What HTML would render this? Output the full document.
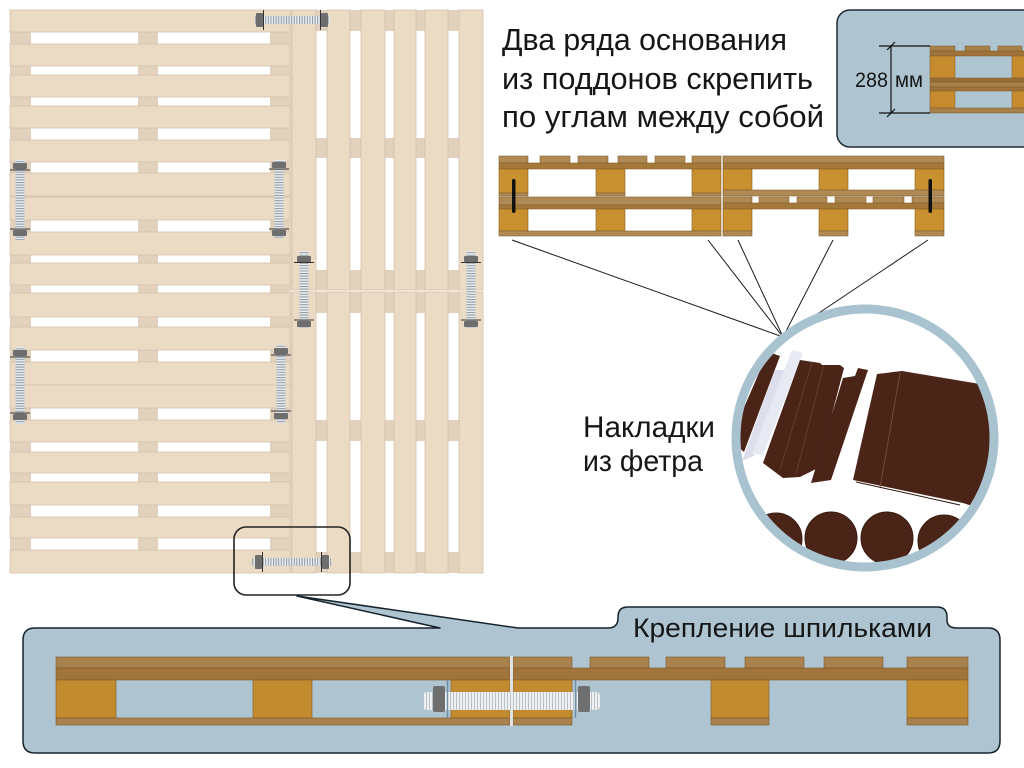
<!DOCTYPE html>
<html><head><meta charset="utf-8"><style>
html,body{margin:0;padding:0;background:#fff;}
svg{display:block;}
text{font-family:"Liberation Sans","Noto Sans CJK SC",sans-serif;fill:#161616;}
</style></head><body>
<svg width="1024" height="768" viewBox="0 0 1024 768" xmlns="http://www.w3.org/2000/svg">
<defs>
<pattern id="sv" width="12" height="2.6" patternUnits="userSpaceOnUse"><rect width="12" height="2.6" fill="#e8ecef"/><rect width="12" height="1" fill="#8e99a3"/></pattern>
<pattern id="sh" width="2.6" height="12" patternUnits="userSpaceOnUse"><rect width="2.6" height="12" fill="#e8ecef"/><rect width="1" height="12" fill="#8e99a3"/></pattern>
<pattern id="sh2" width="3" height="30" patternUnits="userSpaceOnUse"><rect width="3" height="30" fill="#eef0f2"/><rect width="1" height="30" fill="#b9c0c6"/></pattern>
<clipPath id="cc"><circle cx="865" cy="438" r="125"/></clipPath>
</defs>

<!-- LEFT PALLETS -->
<rect x="10" y="10" width="280" height="563" fill="#e2d1bd"/>
<g fill="#fff">
<rect x="31" y="32" width="107" height="12"/><rect x="158" y="32" width="112" height="12"/>
<rect x="31" y="66" width="107" height="9"/><rect x="158" y="66" width="112" height="9"/>
<rect x="31" y="97" width="107" height="9"/><rect x="158" y="97" width="112" height="9"/>
<rect x="31" y="128" width="107" height="12"/><rect x="158" y="128" width="112" height="12"/>
<rect x="31" y="162" width="107" height="11"/><rect x="158" y="162" width="112" height="11"/>
<rect x="31" y="220" width="107" height="12"/><rect x="158" y="220" width="112" height="12"/>
<rect x="31" y="255" width="107" height="8"/><rect x="158" y="255" width="112" height="8"/>
<rect x="31" y="285" width="107" height="8"/><rect x="158" y="285" width="112" height="8"/>
<rect x="31" y="317" width="107" height="10"/><rect x="158" y="317" width="112" height="10"/>
<rect x="31" y="350" width="107" height="12"/><rect x="158" y="350" width="112" height="12"/>
<rect x="31" y="408" width="107" height="12"/><rect x="158" y="408" width="112" height="12"/>
<rect x="31" y="442" width="107" height="10"/><rect x="158" y="442" width="112" height="10"/>
<rect x="31" y="473" width="107" height="9"/><rect x="158" y="473" width="112" height="9"/>
<rect x="31" y="505" width="107" height="12"/><rect x="158" y="505" width="112" height="12"/>
<rect x="31" y="538" width="107" height="12"/><rect x="158" y="538" width="112" height="12"/>
</g>
<g fill="#ebdbc5" stroke="#d2c1aa" stroke-width="0.8">
<rect x="10" y="10" width="280" height="22"/>
<rect x="10" y="44" width="280" height="22"/>
<rect x="10" y="75" width="280" height="22"/>
<rect x="10" y="106" width="280" height="22"/>
<rect x="10" y="140" width="280" height="22"/>
<rect x="10" y="173" width="280" height="23"/>
<rect x="10" y="197" width="280" height="23"/>
<rect x="10" y="232" width="280" height="23"/>
<rect x="10" y="263" width="280" height="22"/>
<rect x="10" y="293" width="280" height="24"/>
<rect x="10" y="327" width="280" height="23"/>
<rect x="10" y="362" width="280" height="23"/>
<rect x="10" y="385" width="280" height="23"/>
<rect x="10" y="420" width="280" height="22"/>
<rect x="10" y="452" width="280" height="21"/>
<rect x="10" y="482" width="280" height="23"/>
<rect x="10" y="517" width="280" height="21"/>
<rect x="10" y="550" width="280" height="23"/>
</g>

<!-- RIGHT PALLETS -->
<rect x="290" y="10" width="193" height="563" fill="#e2d1bd"/>
<g fill="#fff">
<rect x="316" y="31" width="11" height="107"/><rect x="350" y="31" width="11" height="107"/><rect x="385" y="31" width="9" height="107"/><rect x="416" y="31" width="9" height="107"/><rect x="448" y="31" width="11" height="107"/>
<rect x="316" y="158" width="11" height="112"/><rect x="350" y="158" width="11" height="112"/><rect x="385" y="158" width="9" height="112"/><rect x="416" y="158" width="9" height="112"/><rect x="448" y="158" width="11" height="112"/>
<rect x="316" y="313" width="11" height="107"/><rect x="350" y="313" width="11" height="107"/><rect x="385" y="313" width="9" height="107"/><rect x="416" y="313" width="9" height="107"/><rect x="448" y="313" width="11" height="107"/>
<rect x="316" y="441" width="11" height="111"/><rect x="350" y="441" width="11" height="111"/><rect x="385" y="441" width="9" height="111"/><rect x="416" y="441" width="9" height="111"/><rect x="448" y="441" width="11" height="111"/>
</g>
<g fill="#ebdbc5" stroke="#d2c1aa" stroke-width="0.8">
<rect x="292" y="10" width="24" height="280"/><rect x="327" y="10" width="23" height="280"/><rect x="361" y="10" width="24" height="280"/><rect x="394" y="10" width="22" height="280"/><rect x="425" y="10" width="23" height="280"/><rect x="459" y="10" width="24" height="280"/>
<rect x="292" y="292" width="24" height="281"/><rect x="327" y="292" width="23" height="281"/><rect x="361" y="292" width="24" height="281"/><rect x="394" y="292" width="22" height="281"/><rect x="425" y="292" width="23" height="281"/><rect x="459" y="292" width="24" height="281"/>
</g>
<line x1="290" y1="291" x2="483" y2="291" stroke="#f4ece2" stroke-width="1.5"/>

<!-- BOLTS -->
<g>
<!-- H1 -->
<rect x="255" y="16" width="75" height="8" fill="url(#sh)"/>
<rect x="256" y="13" width="7" height="14" rx="1" fill="#6e6e6e"/><rect x="321" y="13" width="7" height="14" rx="1" fill="#6e6e6e"/>
<line x1="263.5" y1="10" x2="263.5" y2="30" stroke="#333" stroke-width="1"/><line x1="320.5" y1="10" x2="320.5" y2="30" stroke="#333" stroke-width="1"/>
<!-- H2 -->
<rect x="252" y="558" width="80" height="8" fill="url(#sh)"/>
<rect x="255" y="555" width="7" height="14" rx="1" fill="#6e6e6e"/><rect x="322" y="555" width="7" height="14" rx="1" fill="#6e6e6e"/>
<line x1="262.5" y1="552" x2="262.5" y2="572" stroke="#333" stroke-width="1"/><line x1="321.5" y1="552" x2="321.5" y2="572" stroke="#333" stroke-width="1"/>
<!-- V1 -->
<rect x="15.5" y="160" width="9" height="80" fill="url(#sv)"/>
<rect x="13" y="163" width="14" height="6" rx="1" fill="#6e6e6e"/><rect x="13" y="230" width="14" height="6" rx="1" fill="#6e6e6e"/>
<line x1="10" y1="170" x2="30" y2="170" stroke="#333"/><line x1="10" y1="229" x2="30" y2="229" stroke="#333"/>
<!-- V2 -->
<rect x="274.5" y="160" width="9" height="78" fill="url(#sv)"/>
<rect x="272" y="162" width="14" height="6" rx="1" fill="#6e6e6e"/><rect x="272" y="230" width="14" height="6" rx="1" fill="#6e6e6e"/>
<line x1="269" y1="169" x2="289" y2="169" stroke="#333"/><line x1="269" y1="229" x2="289" y2="229" stroke="#333"/>
<!-- V3 -->
<rect x="299.5" y="251" width="9" height="77" fill="url(#sv)"/>
<rect x="297" y="256" width="14" height="6" rx="1" fill="#6e6e6e"/><rect x="297" y="321" width="14" height="6" rx="1" fill="#6e6e6e"/>
<line x1="294" y1="262.5" x2="314" y2="262.5" stroke="#333"/><line x1="294" y1="320" x2="314" y2="320" stroke="#333"/>
<!-- V4 -->
<rect x="466.5" y="251" width="9" height="77" fill="url(#sv)"/>
<rect x="464" y="256" width="14" height="6" rx="1" fill="#6e6e6e"/><rect x="464" y="321" width="14" height="6" rx="1" fill="#6e6e6e"/>
<line x1="461" y1="262.5" x2="481" y2="262.5" stroke="#333"/><line x1="461" y1="320" x2="481" y2="320" stroke="#333"/>
<!-- V5 -->
<rect x="15.5" y="347" width="9" height="77" fill="url(#sv)"/>
<rect x="13" y="350" width="14" height="6" rx="1" fill="#6e6e6e"/><rect x="13" y="414" width="14" height="6" rx="1" fill="#6e6e6e"/>
<line x1="10" y1="357" x2="30" y2="357" stroke="#333"/><line x1="10" y1="413" x2="30" y2="413" stroke="#333"/>
<!-- V6 -->
<rect x="276.5" y="345" width="9" height="78" fill="url(#sv)"/>
<rect x="274" y="348" width="14" height="6" rx="1" fill="#6e6e6e"/><rect x="274" y="413" width="14" height="6" rx="1" fill="#6e6e6e"/>
<line x1="271" y1="355" x2="291" y2="355" stroke="#333"/><line x1="271" y1="411" x2="291" y2="411" stroke="#333"/>
</g>

<!-- highlight box -->
<rect x="234" y="527" width="116" height="68" rx="12" fill="none" stroke="#222" stroke-width="1.6"/>

<!-- HEADING -->
<text x="502" y="50" font-size="31" textLength="285" lengthAdjust="spacingAndGlyphs">Два ряда основания</text>
<text x="502" y="89" font-size="31" textLength="311" lengthAdjust="spacingAndGlyphs">из поддонов скрепить</text>
<text x="502" y="127" font-size="31" textLength="322" lengthAdjust="spacingAndGlyphs">по углам между собой</text>

<!-- TOP RIGHT BOX -->
<rect x="837" y="10" width="200" height="137" rx="13" fill="#aec4d1" stroke="#1e2a33" stroke-width="1.5"/>
<g stroke="#7a5a2a" stroke-width="0.5">
<rect x="930" y="46" width="25" height="5" fill="#a8804a"/><rect x="965" y="46" width="25" height="5" fill="#a8804a"/><rect x="998" y="46" width="24" height="5" fill="#a8804a"/>
<rect x="930" y="51" width="100" height="5" fill="#a0733a"/>
<rect x="930" y="56" width="25" height="22" fill="#c68b2e"/><rect x="1012" y="56" width="18" height="22" fill="#c68b2e"/>
<rect x="930" y="78" width="100" height="4" fill="#9a6d36"/>
<rect x="930" y="82" width="100" height="5" fill="#a8804a"/>
<rect x="930" y="87" width="100" height="4" fill="#a0733a"/>
<rect x="930" y="91" width="25" height="17" fill="#c68b2e"/><rect x="1012" y="91" width="18" height="17" fill="#c68b2e"/>
<rect x="930" y="108" width="100" height="5" fill="#a8804a"/>
</g>
<g stroke="#111" stroke-width="1.2">
<line x1="879" y1="46" x2="930" y2="46"/><line x1="879" y1="113" x2="930" y2="113"/>
<line x1="891" y1="46" x2="891" y2="113"/>
<line x1="887" y1="50" x2="895" y2="42"/><line x1="887" y1="117" x2="895" y2="109"/>
</g>
<text x="855" y="87" font-size="21" textLength="33" lengthAdjust="spacingAndGlyphs">288</text>
<text x="895" y="87" font-size="21" textLength="28" lengthAdjust="spacingAndGlyphs">мм</text>

<!-- MIDDLE CROSS-SECTION -->
<g stroke="#83602e" stroke-width="0.6">
<!-- UL -->
<rect x="499" y="156" width="29" height="7" fill="#b08a55"/><rect x="540" y="156" width="30" height="7" fill="#b08a55"/><rect x="578" y="156" width="30" height="7" fill="#b08a55"/><rect x="618" y="156" width="29" height="7" fill="#b08a55"/><rect x="655" y="156" width="30" height="7" fill="#b08a55"/><rect x="692" y="156" width="29" height="7" fill="#b08a55"/>
<rect x="499" y="163" width="222" height="6" fill="#a47838"/>
<rect x="499" y="169" width="29" height="24" fill="#c8902f"/><rect x="596" y="169" width="29" height="24" fill="#c8902f"/><rect x="692" y="169" width="29" height="24" fill="#c8902f"/>
<rect x="499" y="193" width="29" height="3" fill="#b08a55"/><rect x="596" y="193" width="29" height="3" fill="#b08a55"/><rect x="692" y="193" width="29" height="3" fill="#b08a55"/>
<!-- LL -->
<rect x="499" y="197" width="222" height="8" fill="#b08a55"/>
<rect x="499" y="205" width="222" height="4" fill="#a47838"/>
<rect x="499" y="209" width="29" height="22" fill="#c8902f"/><rect x="596" y="209" width="29" height="22" fill="#c8902f"/><rect x="692" y="209" width="29" height="22" fill="#c8902f"/>
<rect x="499" y="231" width="222" height="5" fill="#b08a55"/>
<!-- UR -->
<rect x="723" y="156" width="221" height="7" fill="#b08a55"/>
<rect x="723" y="163" width="221" height="6" fill="#a47838"/>
<rect x="723" y="169" width="29" height="21" fill="#c8902f"/><rect x="819" y="169" width="29" height="21" fill="#c8902f"/><rect x="915" y="169" width="29" height="21" fill="#c8902f"/>
<rect x="723" y="190" width="221" height="6" fill="#b08a55"/>
<!-- LR -->
<rect x="723" y="197" width="29" height="6" fill="#b08a55"/><rect x="759" y="197" width="30" height="6" fill="#b08a55"/><rect x="797" y="197" width="30" height="6" fill="#b08a55"/><rect x="835" y="197" width="31" height="6" fill="#b08a55"/><rect x="873" y="197" width="31" height="6" fill="#b08a55"/><rect x="912" y="197" width="32" height="6" fill="#b08a55"/>
<rect x="723" y="203" width="221" height="6" fill="#a47838"/>
<rect x="723" y="209" width="29" height="22" fill="#c8902f"/><rect x="819" y="209" width="29" height="22" fill="#c8902f"/><rect x="915" y="209" width="29" height="22" fill="#c8902f"/>
<rect x="723" y="231" width="29" height="5" fill="#b08a55"/><rect x="819" y="231" width="29" height="5" fill="#b08a55"/><rect x="915" y="231" width="29" height="5" fill="#b08a55"/>
</g>
<rect x="512" y="179" width="3.5" height="34" rx="1.7" fill="#111"/>
<rect x="928.5" y="179" width="3.5" height="34" rx="1.7" fill="#111"/>

<!-- fan lines -->
<g stroke="#1a1a1a" stroke-width="1">
<line x1="512" y1="240" x2="783" y2="337"/>
<line x1="708" y1="240" x2="783" y2="337"/>
<line x1="738" y1="240" x2="783" y2="337"/>
<line x1="833" y1="240" x2="783" y2="337"/>
<line x1="928" y1="240" x2="783" y2="337"/>
</g>

<!-- FELT CIRCLE -->
<g clip-path="url(#cc)">
<rect x="735" y="310" width="260" height="260" fill="#fff"/>
<polygon points="768,352 780,356 744,452 730,440" fill="#4b2418"/>
<polygon points="775,370 788,370 754,456 742,461" fill="#dcdfeb"/>
<polygon points="792,350 803,353 763,455 752,454" fill="#e8eaf3"/>
<polygon points="800,360 820,363 822,365 840,365 844,368 818,468 800,477 783,478 763,463" fill="#4b2418"/>
<line x1="812" y1="362" x2="780" y2="470" stroke="#6b4030" stroke-width="0.8"/>
<line x1="824" y1="365" x2="796" y2="474" stroke="#6b4030" stroke-width="0.8"/>
<polygon points="843,378 855,376 858,368 868,370 831,480 811,483 815,470" fill="#4b2418"/>
<polygon points="877,374 902,371 980,384 1000,400 1000,515 963,503 853,480" fill="#4b2418"/>
<line x1="900" y1="373" x2="880" y2="488" stroke="#7a5040" stroke-width="0.8"/>
<line x1="856" y1="482" x2="960" y2="505" stroke="#2e140c" stroke-width="1"/>
<circle cx="776" cy="539" r="26" fill="#4b2418" stroke="#3a1a10"/>
<circle cx="831" cy="538" r="26" fill="#4b2418" stroke="#3a1a10"/>
<circle cx="887" cy="538" r="26" fill="#4b2418" stroke="#3a1a10"/>
<circle cx="944" cy="541" r="26" fill="#4b2418" stroke="#3a1a10"/>
</g>
<circle cx="865" cy="438" r="129" fill="none" stroke="#a8c2cf" stroke-width="9"/>

<text x="583" y="437" font-size="30" textLength="132" lengthAdjust="spacingAndGlyphs">Накладки</text>
<text x="583" y="471" font-size="30" textLength="120" lengthAdjust="spacingAndGlyphs">из фетра</text>

<!-- BOTTOM PANEL -->
<path d="M35,628 L440,628 L297,596 L518,628 L608,628 Q618,628 618,618 L618,617 Q618,607 628,607 L937,607 Q947,607 947,617 L947,620 Q947,628 957,628 L988,628 Q1000,628 1000,640 L1000,741 Q1000,753 988,753 L35,753 Q23,753 23,741 L23,640 Q23,628 35,628 Z" fill="#aec4d1" stroke="#16232c" stroke-width="1.5" stroke-linejoin="round"/>
<text x="633" y="637" font-size="27" textLength="299" lengthAdjust="spacingAndGlyphs">Крепление шпильками</text>

<g stroke="#7c5a2a" stroke-width="0.6">
<!-- left pallet -->
<rect x="56" y="657" width="454" height="11" fill="#a9814d"/>
<rect x="56" y="668" width="454" height="12" fill="#a0743a"/>
<rect x="56" y="680" width="60" height="38" fill="#c28b2f"/><rect x="253" y="680" width="59" height="38" fill="#c28b2f"/><rect x="451" y="680" width="59" height="38" fill="#c28b2f"/>
<rect x="56" y="718" width="454" height="7" fill="#a9814d"/>
<!-- right pallet -->
<rect x="513" y="657" width="59" height="11" fill="#a9814d"/><rect x="590" y="657" width="59" height="11" fill="#a9814d"/><rect x="666" y="657" width="59" height="11" fill="#a9814d"/><rect x="745" y="657" width="59" height="11" fill="#a9814d"/><rect x="824" y="657" width="59" height="11" fill="#a9814d"/><rect x="907" y="657" width="61" height="11" fill="#a9814d"/>
<rect x="513" y="668" width="455" height="12" fill="#a0743a"/>
<rect x="513" y="680" width="59" height="38" fill="#c28b2f"/><rect x="711" y="680" width="58" height="38" fill="#c28b2f"/><rect x="907" y="680" width="61" height="38" fill="#c28b2f"/>
<rect x="513" y="718" width="59" height="7" fill="#a9814d"/><rect x="711" y="718" width="58" height="7" fill="#a9814d"/><rect x="907" y="718" width="61" height="7" fill="#a9814d"/>
</g>
<rect x="510" y="656" width="3" height="70" fill="#dfe3e6"/>
<!-- rod -->
<rect x="423" y="692" width="177" height="18" rx="4" fill="url(#sh2)"/>
<rect x="433" y="686" width="12" height="26" rx="2" fill="#6f6f6f"/>
<rect x="578" y="686" width="12" height="26" rx="2" fill="#6f6f6f"/>
<line x1="447.5" y1="680" x2="447.5" y2="718" stroke="#6f8fa3" stroke-width="1.5"/>
<line x1="575.5" y1="680" x2="575.5" y2="718" stroke="#6f8fa3" stroke-width="1.5"/>
</svg>
</body></html>
